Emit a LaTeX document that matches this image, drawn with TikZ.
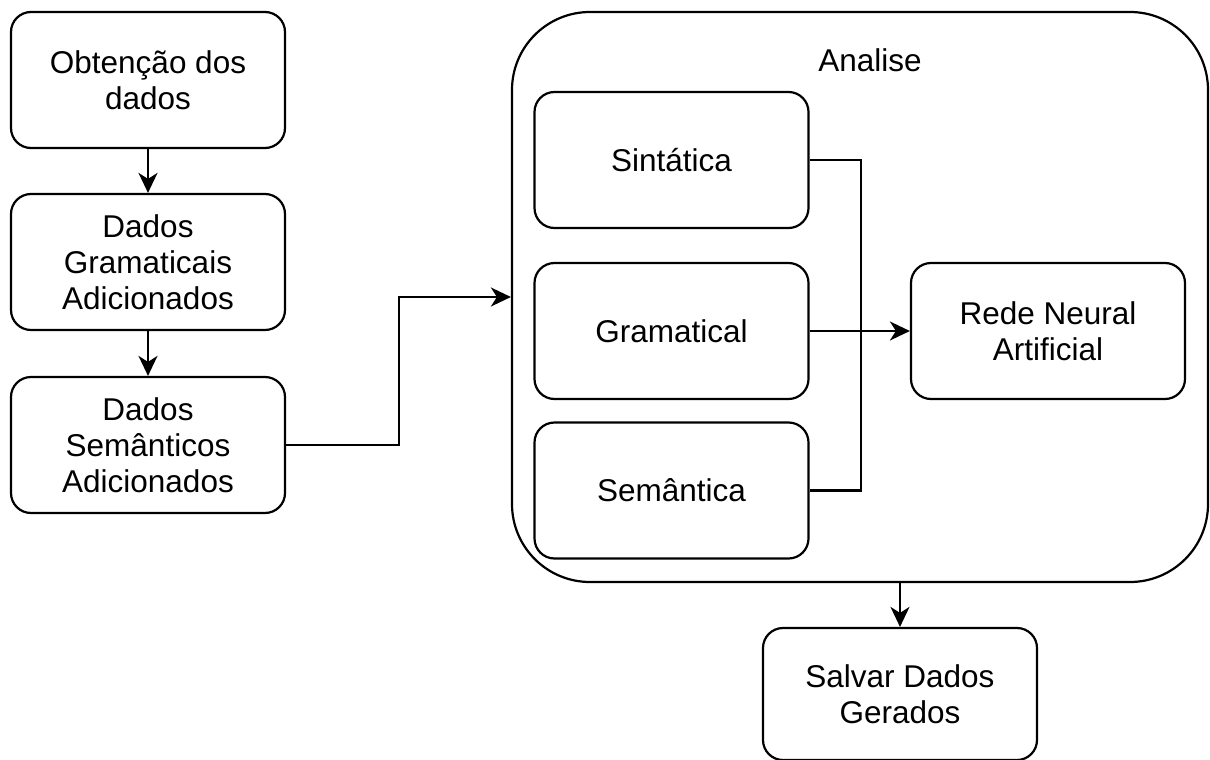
\documentclass[tikz,border=0pt]{standalone}
\usepackage{fontspec}
\setmainfont{Liberation Sans}
\usetikzlibrary{arrows.meta,calc}
\begin{document}
\begin{tikzpicture}[x=1pt,y=-1pt,
  every node/.style={font=\fontsize{31.5}{36}\selectfont},
  box/.style={draw, line width=2.2pt, rounded corners=20pt, minimum width=274pt,
    minimum height=136pt, align=center, inner sep=0pt},
  container/.style={draw, line width=2.2pt, rounded corners=78pt, minimum width=696pt,
    minimum height=570pt, inner sep=0pt},
  link/.style={line width=2.2pt},
  arr/.style={line width=2.2pt, -{Stealth[length=20pt,width=19pt,inset=6pt]}}]
\useasboundingbox (0,0) rectangle (1210,760);
\node[container] (cont) at (860,297) {};
\node (lab) at (870,60) {Analise};
\node[box] (ob) at (148,80) {Obtenção dos\\dados};
\node[box] (dg) at (148,262) {Dados\\Gramaticais\\Adicionados};
\node[box] (ds) at (148,445) {Dados\\Semânticos\\Adicionados};
\node[box] (sin) at (671.5,160) {Sintática};
\node[box] (gra) at (671.5,331) {Gramatical};
\node[box] (sem) at (671.5,490.5) {Semântica};
\node[box] (rede) at (1048,331) {Rede Neural\\Artificial};
\node[box, minimum height=132pt] (sal) at (900,694) {Salvar Dados\\Gerados};
\coordinate (bus) at (861,331);
\coordinate (mid) at (399,370);
\draw[arr] (ob) -- (dg);
\draw[arr] (dg) -- (ds);
\draw[arr] (ds.east) -| (mid) |- (cont.west);
\draw[link] (sin.east) -| (bus) |- (sem.east);
\draw[arr] (gra.east) -- (rede.west);
\draw[arr] (cont.south -| sal.north) -- (sal.north);
\end{tikzpicture}
\end{document}
